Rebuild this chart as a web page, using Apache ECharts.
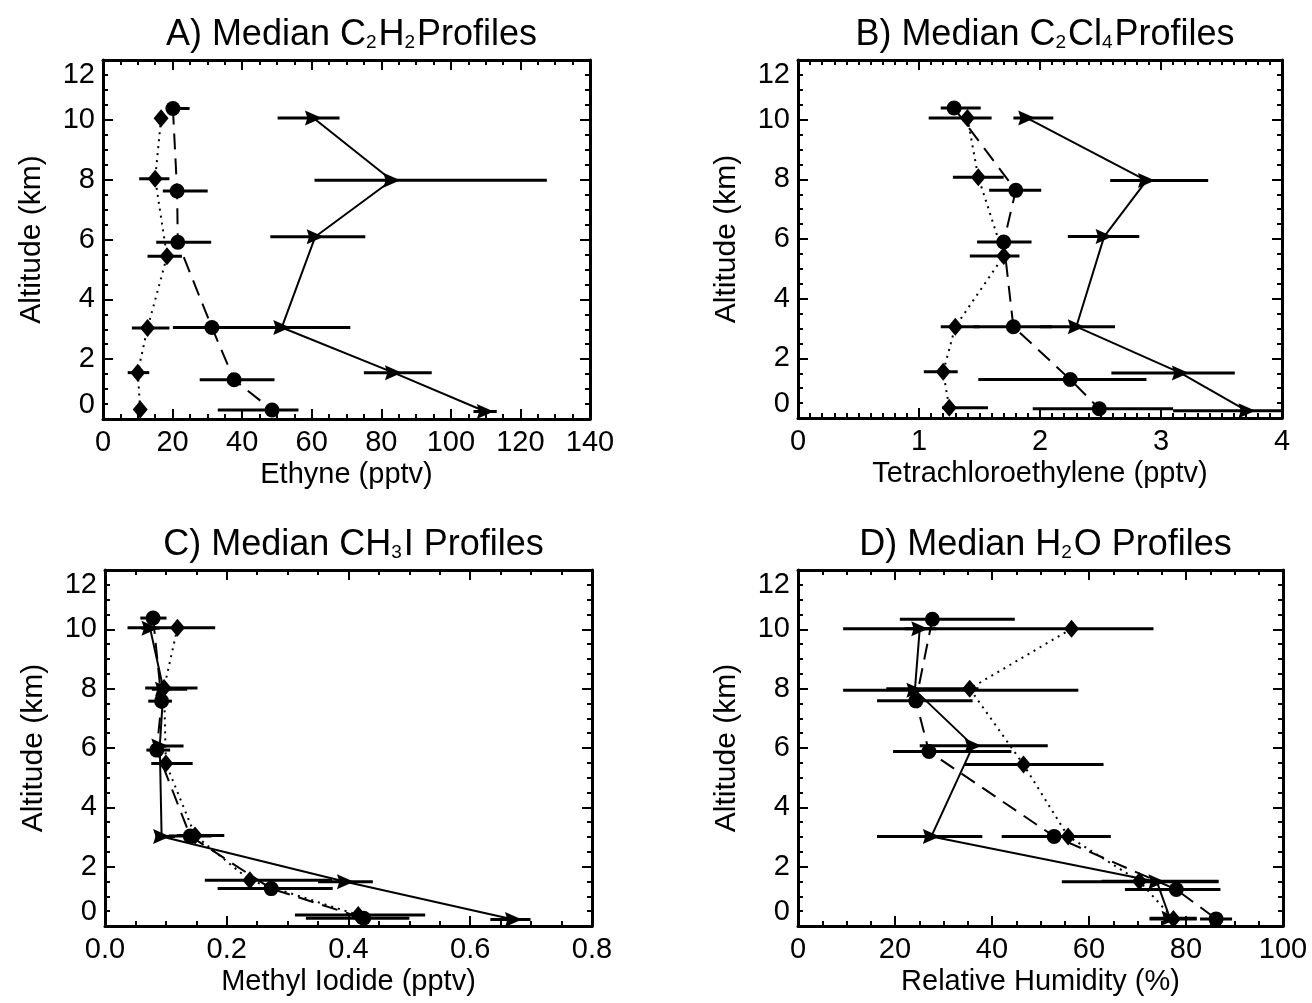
<!DOCTYPE html>
<html>
<head>
<meta charset="utf-8">
<script src="https://cdn.jsdelivr.net/npm/echarts@6/dist/echarts.min.js"></script>
<style>
html,body{margin:0;padding:0;background:#fff;}
#chart{width:1312px;height:1003px;}
</style>
</head>
<body>
<div id="chart"></div>
<script>
// rows: [value, altitude_km, errLow, errHigh]
// Panel A: Ethyne (pptv)
const A_dia = [[16.7,10.05,15.5,18.0],[15.0,8.03,10.4,19.1],[18.4,5.44,12.8,22.7],[12.8,3.04,8.3,19.1],[10.0,1.55,7.1,13.3],[10.7,0.32,9.5,12.0]];
const A_cir = [[20.1,10.38,18.2,24.9],[21.3,7.62,17.2,30.1],[21.5,5.91,15.3,31.1],[31.3,3.06,20.1,42.5],[37.7,1.31,27.8,49.3],[48.6,0.30,33.0,56.2]];
const A_tri = [[60.5,10.06,50.2,68.0],[83.0,7.98,60.8,127.6],[61.0,6.09,48.1,75.4],[51.4,3.06,31.7,71.1],[83.5,1.55,75.0,94.5],[109.9,0.25,106.5,113.2]];
// Panel B: Tetrachloroethylene (pptv)
const B_dia = [[1.40,10.06,1.08,1.60],[1.49,8.07,1.28,1.70],[1.70,5.43,1.42,1.83],[1.30,3.06,1.18,1.50],[1.20,1.55,1.04,1.32],[1.25,0.34,1.19,1.57]];
const B_cir = [[1.29,10.39,1.18,1.51],[1.80,7.63,1.58,2.01],[1.70,5.90,1.48,1.93],[1.78,3.06,1.45,2.10],[2.25,1.29,1.49,2.88],[2.49,0.31,1.94,3.10]];
const B_tri = [[1.89,10.06,1.78,2.11],[2.88,7.96,2.58,3.39],[2.53,6.08,2.23,2.82],[2.30,3.06,2.00,2.62],[3.16,1.51,2.59,3.61],[3.71,0.24,3.10,4.20]];
// Panel C: Methyl Iodide (pptv)
const C_dia = [[0.119,10.05,0.037,0.181],[0.097,8.02,0.066,0.152],[0.100,5.48,0.076,0.144],[0.148,3.05,0.118,0.196],[0.238,1.54,0.164,0.373],[0.416,0.37,0.312,0.526]];
const C_cir = [[0.079,10.38,0.058,0.101],[0.093,7.58,0.071,0.110],[0.085,5.93,0.068,0.107],[0.140,3.03,0.105,0.175],[0.273,1.26,0.185,0.374],[0.425,0.26,0.330,0.500]];
const C_tri = [[0.074,10.04,0.060,0.090],[0.096,7.98,0.077,0.135],[0.090,6.07,0.077,0.129],[0.093,3.02,0.083,0.115],[0.395,1.49,0.350,0.440],[0.671,0.22,0.633,0.699]];
// Panel D: Relative Humidity (%)
const D_dia = [[56.4,10.02,9.3,73.3],[35.4,8.00,18.2,37.2],[46.5,5.44,34.4,63.0],[55.7,3.02,47.0,64.5],[70.4,1.51,62.6,86.7],[77.4,0.24,72.5,82.2]];
const D_cir = [[27.7,10.34,21.0,44.7],[24.3,7.59,16.3,36.0],[27.0,5.88,19.6,44.0],[52.8,3.02,42.0,62.0],[78.0,1.23,67.4,87.1],[86.2,0.24,82.9,89.5]];
const D_tri = [[25.1,10.02,22.0,28.5],[24.1,7.95,9.3,57.8],[36.1,6.08,25.1,51.5],[27.5,3.02,16.3,38.0],[74.0,1.49,54.4,86.7],[76.7,0.26,72.5,82.2]];

const titles = ['A) Median C{s|2}H{s|2}Profiles','B) Median C{s|2}Cl{s|4}Profiles','C) Median CH{s|3}I Profiles','D) Median H{s|2}O Profiles'];
const xNames = ['Ethyne (pptv)','Tetrachloroethylene (pptv)','Methyl Iodide (pptv)','Relative Humidity (%)'];
const yName = 'Altitude (km)';
const xScales = [[0,140,20,4,0],[0,4,1,10,0],[0,0.8,0.2,4,1],[0,100,20,4,0]]; // min,max,interval,minorSplit,decimals
const yScale = [0,12,2,4];

const FONT = '"Liberation Sans", Arial, Helvetica, sans-serif';
const grids = [
  {left:103, top:60, width:487, height:359},
  {left:798, top:60, width:484, height:358},
  {left:105, top:570, width:487, height:356},
  {left:798, top:570, width:485, height:356}
];
const panels = [[A_dia,A_cir,A_tri],[B_dia,B_cir,B_tri],[C_dia,C_cir,C_tri],[D_dia,D_cir,D_tri]];

const option = {animation:false, backgroundColor:'#fff', title:[], grid:grids, xAxis:[], yAxis:[], series:[]};
const lineAx = {show:true, onZero:false, lineStyle:{color:'#000', width:3}};
const tick = {show:true, inside:true, length:10, lineStyle:{color:'#000', width:2}};

panels.forEach((p, g) => {
  const gr = grids[g];
  option.title.push({text:titles[g], left:gr.left+gr.width/2, top:gr.top-48, textAlign:'center',
    textStyle:{fontFamily:FONT, fontSize:36, fontWeight:'normal', color:'#000',
      rich:{s:{fontFamily:FONT, fontSize:19, color:'#000', padding:[16,2,0,0]}}}});
  const [mn,mx,iv,ms,dec] = xScales[g];
  const base = {type:'value', gridIndex:g, min:mn, max:mx, interval:iv, splitLine:{show:false},
    axisLine:lineAx, axisTick:tick, minorTick:{show:true, splitNumber:ms, length:5, lineStyle:{color:'#000', width:2}}};
  option.xAxis.push(Object.assign({}, base, {position:'bottom', name:xNames[g], nameLocation:'middle', nameGap:41,
    nameTextStyle:{fontFamily:FONT, fontSize:29, color:'#000'},
    axisLabel:{fontFamily:FONT, fontSize:29, color:'#000', margin:9, formatter:v=>v.toFixed(dec)}}));
  option.xAxis.push(Object.assign({}, base, {position:'top', axisLabel:{show:false}}));
  const ybase = {type:'value', gridIndex:g, min:yScale[0], max:yScale[1], interval:yScale[2], splitLine:{show:false},
    axisLine:lineAx, axisTick:tick, minorTick:{show:true, splitNumber:yScale[3], length:5, lineStyle:{color:'#000', width:2}}};
  option.yAxis.push(Object.assign({}, ybase, {position:'left', name:yName, nameLocation:'middle', nameGap:56, nameRotate:90,
    nameTextStyle:{fontFamily:FONT, fontSize:30, color:'#000'},
    axisLabel:{fontFamily:FONT, fontSize:29, color:'#000', margin:8, verticalAlignMinLabel:'bottom', verticalAlignMaxLabel:'top'}}));
  option.yAxis.push(Object.assign({}, ybase, {position:'right', axisLabel:{show:false}}));
  const xi = g*2, yi = g*2;
  const styles = [
    {sym:'diamond', size:[15,18], type:[2,5]},
    {sym:'circle', size:15, type:[16,9]},
    {sym:'path://M0,0 L14,7 L0,14 L2,7 Z', size:[17,15], type:'solid'}
  ];
  p.forEach((rows, k) => {
    option.series.push({type:'custom', xAxisIndex:xi, yAxisIndex:yi, clip:true, z:2,
      data:rows, encode:{x:[2,3], y:1},
      renderItem:(params, api) => {
        const y = api.value(1);
        const a = api.coord([api.value(2), y]);
        const b = api.coord([api.value(3), y]);
        return {type:'line', shape:{x1:a[0], y1:a[1], x2:b[0], y2:b[1]}, style:{stroke:'#000', lineWidth:3}};
      }});
    const st = styles[k];
    option.series.push({type:'line', xAxisIndex:xi, yAxisIndex:yi, z:3,
      data:rows.map(r => [r[0], r[1]]),
      symbol:st.sym, symbolSize:st.size, showSymbol:true,
      itemStyle:{color:'#000'}, lineStyle:{color:'#000', width:2, type:st.type}});
  });
});

const chart = echarts.init(document.getElementById('chart'), null, {renderer:'canvas'});
chart.setOption(option);
</script>
</body>
</html>
